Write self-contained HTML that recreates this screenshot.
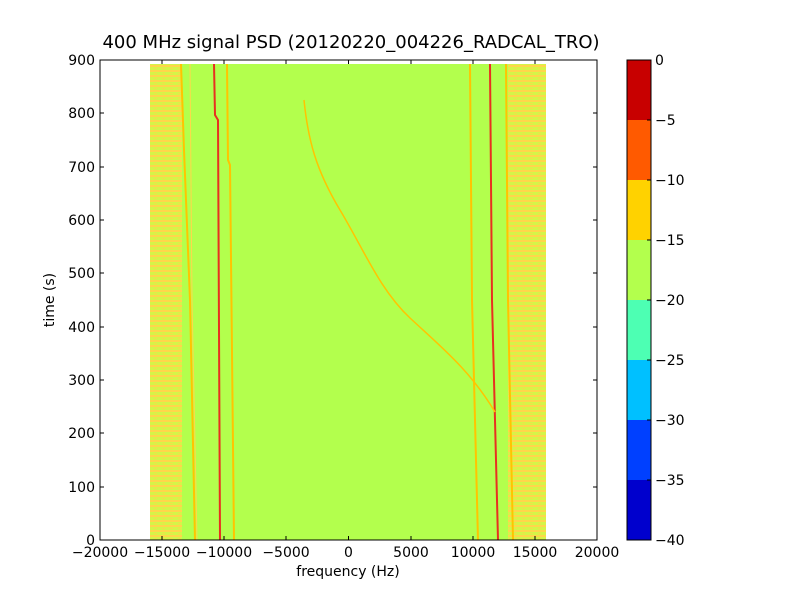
<!DOCTYPE html>
<html><head><meta charset="utf-8"><style>
body{margin:0;background:#fff}
text{font-family:"DejaVu Sans","Liberation Sans",sans-serif;font-size:14px;fill:#000}
</style></head><body>
<svg width="800" height="600" xmlns="http://www.w3.org/2000/svg">
<defs>
<pattern id="st" width="8" height="5" patternUnits="userSpaceOnUse">
<rect width="8" height="5" fill="#d4f548"/>
<rect width="8" height="2" fill="#ffd64a"/>
<rect x="2" y="3" width="3" height="1" fill="#f0e048"/>
</pattern>
</defs>
<rect width="800" height="600" fill="#fff"/>
<text x="351" y="48" text-anchor="middle" style="font-size:18px">400 MHz signal PSD (20120220_004226_RADCAL_TRO)</text>
<rect x="150" y="64" width="396" height="476" fill="#b3ff4d"/>
<rect x="150" y="64" width="32" height="476" fill="url(#st)"/>
<rect x="508" y="64" width="38" height="476" fill="url(#st)"/>
<g fill="none" stroke-width="2">
<path d="M181 64 L184 150 L190 300 L195 540" stroke="#ffc400"/>
<path d="M190 64 L192 300 L197 540" stroke="#ffd84a" stroke-width="1"/>
<path d="M214 64 L215 115 L218 120 L220 540" stroke="#e83020"/>
<path d="M227 64 L228 160 L230 165 L234 540" stroke="#ffc400"/>
<path d="M470 64 L472 300 L478 540" stroke="#ffc400"/>
<path d="M490 64 L492 300 L498 540" stroke="#e83020"/>
<path d="M506 64 L508 300 L513 540" stroke="#ffc400"/>
<path d="M304 100 C308 140 316 170 340 210 S 380 290 410 318 S 470 370 495 412" stroke="#ffc400" stroke-width="1.5"/>
</g>
<rect x="100" y="60" width="497" height="480" fill="none" stroke="#000"/>
<g stroke="#000">
<path d="M100 540v-4M162 540v-4M224 540v-4M286 540v-4M348.5 540v-4M411 540v-4M473 540v-4M535 540v-4M597 540v-4"/>
<path d="M100 60v4M162 60v4M224 60v4M286 60v4M348.5 60v4M411 60v4M473 60v4M535 60v4M597 60v4"/>
<path d="M100 540h4M100 487h4M100 433h4M100 380h4M100 327h4M100 273h4M100 220h4M100 167h4M100 113h4M100 60h4"/>
<path d="M597 540h-4M597 487h-4M597 433h-4M597 380h-4M597 327h-4M597 273h-4M597 220h-4M597 167h-4M597 113h-4M597 60h-4"/>
</g>
<g text-anchor="middle">
<text x="100" y="557">−20000</text><text x="162" y="557">−15000</text><text x="224" y="557">−10000</text><text x="286" y="557">−5000</text><text x="348.5" y="557">0</text><text x="411" y="557">5000</text><text x="473" y="557">10000</text><text x="535" y="557">15000</text><text x="597" y="557">20000</text>
<text x="348" y="576">frequency (Hz)</text>
</g>
<g text-anchor="end">
<text x="95" y="545">0</text><text x="95" y="492">100</text><text x="95" y="438">200</text><text x="95" y="385">300</text><text x="95" y="332">400</text><text x="95" y="278">500</text><text x="95" y="225">600</text><text x="95" y="172">700</text><text x="95" y="118">800</text><text x="95" y="65">900</text>
</g>
<text transform="translate(54 300) rotate(-90)" text-anchor="middle">time (s)</text>
<rect x="627" y="60" width="24" height="60" fill="#c80000"/>
<rect x="627" y="120" width="24" height="60" fill="#ff5a00"/>
<rect x="627" y="180" width="24" height="60" fill="#ffd200"/>
<rect x="627" y="240" width="24" height="60" fill="#b3ff4d"/>
<rect x="627" y="300" width="24" height="60" fill="#4dffb3"/>
<rect x="627" y="360" width="24" height="60" fill="#00c0ff"/>
<rect x="627" y="420" width="24" height="60" fill="#0040ff"/>
<rect x="627" y="480" width="24" height="60" fill="#0000cd"/>
<rect x="627" y="60" width="24" height="480" fill="none" stroke="#000"/>
<g stroke="#000"><path d="M647 120h4M647 180h4M647 240h4M647 300h4M647 360h4M647 420h4M647 480h4"/></g>
<g>
<text x="655" y="65">0</text><text x="655" y="125">−5</text><text x="655" y="185">−10</text><text x="655" y="245">−15</text><text x="655" y="305">−20</text><text x="655" y="365">−25</text><text x="655" y="425">−30</text><text x="655" y="485">−35</text><text x="655" y="545">−40</text>
</g>
</svg>
</body></html>
